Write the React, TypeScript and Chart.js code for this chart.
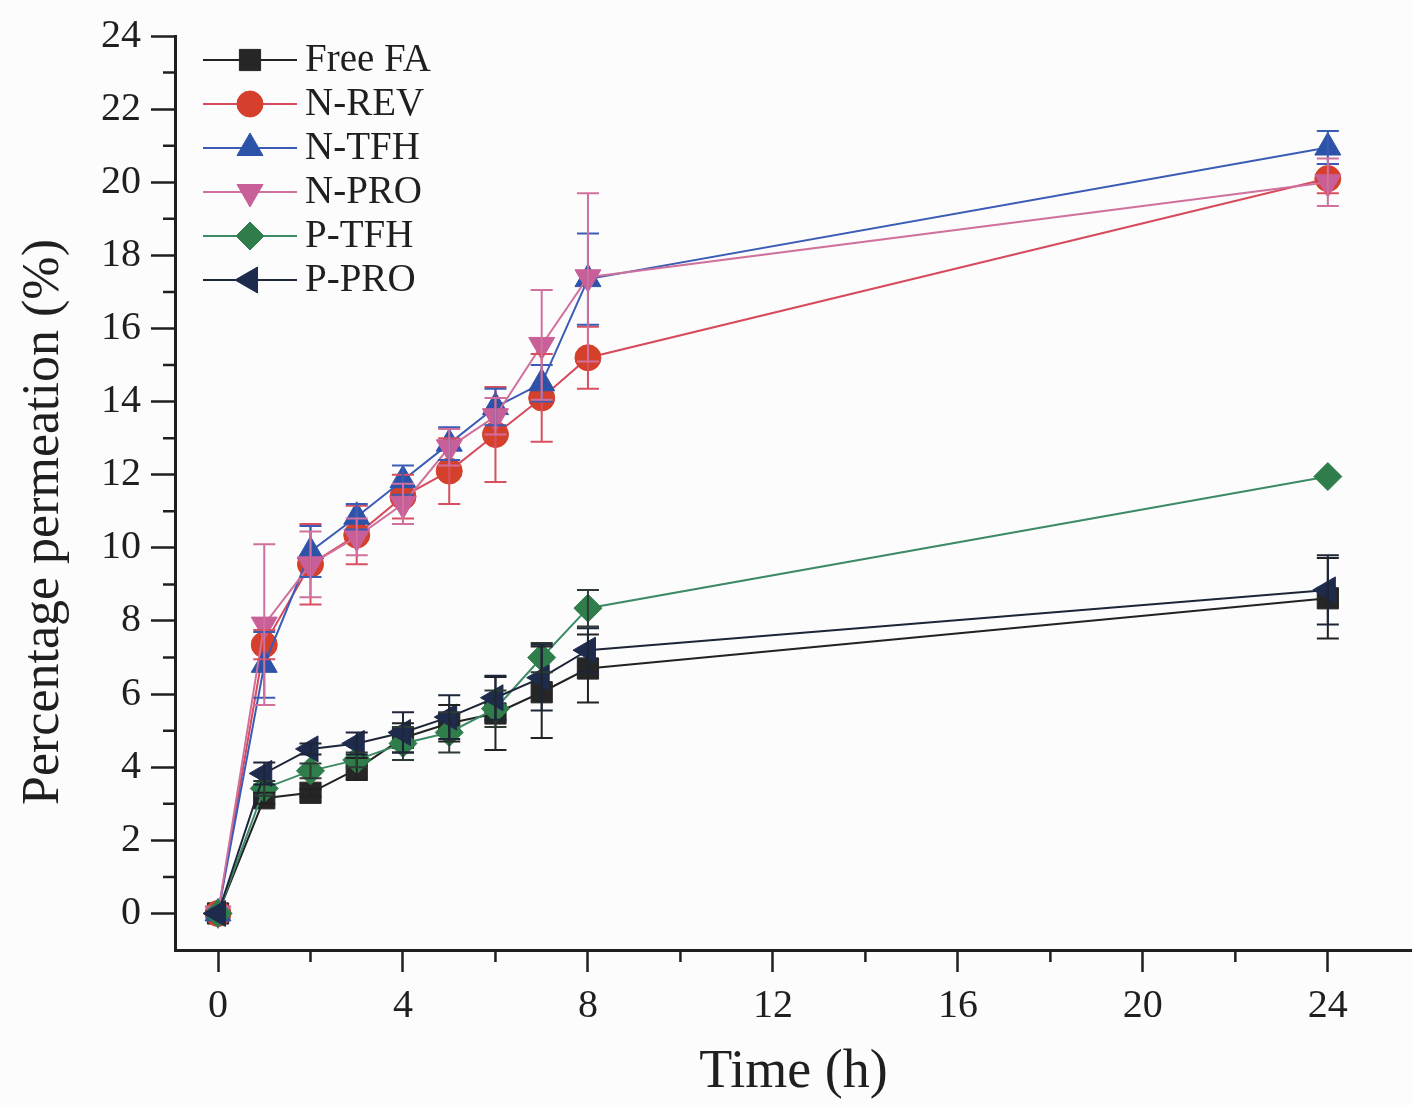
import React, { useEffect, useRef } from 'react';
import { Chart, registerables } from 'chart.js';
import { drawPoint } from 'chart.js/helpers';

Chart.register(...registerables);

const times = [0, 1, 2, 3, 4, 5, 6, 7, 8, 24];

const seriesNames = ['Free FA', 'N-REV', 'N-TFH', 'N-PRO', 'P-TFH', 'P-PRO'];

const freeFA = [0, 3.15, 3.3, 3.95, 4.8, 5.2, 5.47, 6.05, 6.7, 8.62];
const freeFAErr = [0, 0.15, 0.1, 0.3, 0.4, 0.5, 1.0, 1.25, 0.93, 1.1];

const nRev = [0, 7.35, 9.55, 10.35, 11.4, 12.1, 13.1, 14.1, 15.2, 20.1];
const nRevErr = [0, 0.4, 1.1, 0.8, 0.6, 0.9, 1.3, 1.2, 0.85, 0.4];

const nTfh = [0, 6.8, 9.9, 10.85, 11.85, 12.85, 13.85, 14.5, 17.35, 20.95];
const nTfhErr = [0, 0.9, 0.7, 0.35, 0.4, 0.45, 0.5, 0.5, 1.25, 0.45];

const nPro = [0, 7.9, 9.55, 10.3, 11.2, 12.75, 13.6, 15.55, 17.4, 20.0];
const nProErr = [0, 2.2, 0.9, 0.5, 0.55, 0.5, 0.5, 1.5, 2.3, 0.65];

const pTfh = [0, 3.42, 3.9, 4.2, 4.65, 4.95, 5.6, 7.0, 8.35, 11.95];
const pTfhErr = [0, 0.2, 0.2, 0.2, 0.45, 0.55, 0.5, 0.4, 0.5, 0];

const pPro = [0, 3.83, 4.5, 4.65, 4.95, 5.37, 5.9, 6.45, 7.2, 8.85];
const pProErr = [0, 0.3, 0.15, 0.3, 0.55, 0.6, 0.6, 0.9, 0.6, 0.95];

const xTickValues = [0, 4, 8, 12, 16, 20, 24];
const xMinorValues = [2, 6, 10, 14, 18, 22];
const yTickValues = [0, 2, 4, 6, 8, 10, 12, 14, 16, 18, 20, 22, 24];
const yMinorValues = [1, 3, 5, 7, 9, 11, 13, 15, 17, 19, 21, 23];

const xTitle = 'Time (h)';
const yTitle = 'Percentage permeation (%)';

const FONT = '"Liberation Serif", "Times New Roman", serif';
const INK = '#1f1f1f';

const styles = [
  { values: freeFA, errs: freeFAErr, line: '#222222', fill: '#262626', err: '#222222', pointStyle: 'rect', rotation: 0, radius: 15 },
  { values: nRev, errs: nRevErr, line: '#d64a5c', fill: '#d5402c', err: '#d85060', pointStyle: 'circle', rotation: 0, radius: 13 },
  { values: nTfh, errs: nTfhErr, line: '#3a5cb4', fill: '#2d53a8', err: '#3a5cb4', pointStyle: 'triangle', rotation: 0, radius: 15 },
  { values: nPro, errs: nProErr, line: '#d0709c', fill: '#c95f98', err: '#d0709c', pointStyle: 'triangle', rotation: 180, radius: 15 },
  { values: pTfh, errs: pTfhErr, line: '#3d8a66', fill: '#2e7d4a', err: '#2e3a34', pointStyle: 'rectRot', rotation: 0, radius: 14 },
  { values: pPro, errs: pProErr, line: '#1d2538', fill: '#1e2b4d', err: '#1d2538', pointStyle: 'triangle', rotation: -90, radius: 15 },
];

const errorBarPlugin = {
  id: 'errorBars',
  afterDatasetsDraw(chart: any) {
    const { ctx, scales } = chart;
    const x = scales.x;
    const y = scales.y;
    styles.forEach((s) => {
      ctx.save();
      ctx.strokeStyle = s.err;
      ctx.lineWidth = 2;
      s.values.forEach((v, k) => {
        const e = s.errs[k];
        if (!e) return;
        const px = x.getPixelForValue(times[k]);
        const top = y.getPixelForValue(v + e);
        const bot = y.getPixelForValue(v - e);
        ctx.beginPath();
        ctx.moveTo(px, top);
        ctx.lineTo(px, bot);
        ctx.moveTo(px - 11, top);
        ctx.lineTo(px + 11, top);
        ctx.moveTo(px - 11, bot);
        ctx.lineTo(px + 11, bot);
        ctx.stroke();
      });
      ctx.restore();
    });
  },
};

const minorTickPlugin = {
  id: 'minorTicks',
  afterDraw(chart: any) {
    const { ctx, scales, chartArea } = chart;
    ctx.save();
    ctx.strokeStyle = INK;
    ctx.lineWidth = 2.5;
    ctx.beginPath();
    yMinorValues.forEach((v) => {
      const py = scales.y.getPixelForValue(v);
      ctx.moveTo(chartArea.left - 12, py);
      ctx.lineTo(chartArea.left, py);
    });
    xMinorValues.forEach((v) => {
      const px = scales.x.getPixelForValue(v);
      ctx.moveTo(px, chartArea.bottom);
      ctx.lineTo(px, chartArea.bottom + 12);
    });
    ctx.stroke();
    ctx.restore();
  },
};

const yTitlePlugin = {
  id: 'yTitle',
  afterDraw(chart: any) {
    const { ctx } = chart;
    ctx.save();
    ctx.translate(44, 522);
    ctx.rotate(-Math.PI / 2);
    ctx.fillStyle = INK;
    ctx.font = `52px ${FONT}`;
    ctx.textAlign = 'center';
    ctx.textBaseline = 'middle';
    ctx.fillText(yTitle, 0, 0);
    ctx.restore();
  },
};

const legendPlugin = {
  id: 'insideLegend',
  afterDraw(chart: any) {
    const { ctx } = chart;
    ctx.save();
    const x0 = 203;
    const x1 = 297;
    const xm = 250;
    const yStart = 60;
    const dy = 44;
    seriesNames.forEach((name, i) => {
      const s = styles[i];
      const yy = yStart + i * dy;
      ctx.strokeStyle = s.line;
      ctx.lineWidth = 2;
      ctx.beginPath();
      ctx.moveTo(x0, yy);
      ctx.lineTo(x1, yy);
      ctx.stroke();
      ctx.fillStyle = s.fill;
      ctx.strokeStyle = s.fill;
      ctx.lineWidth = 1;
      drawPoint(ctx, { pointStyle: s.pointStyle as any, rotation: s.rotation, radius: s.radius, borderWidth: 1 } as any, xm, yy);
      ctx.fillStyle = INK;
      ctx.font = `39px ${FONT}`;
      ctx.textBaseline = 'middle';
      ctx.textAlign = 'left';
      ctx.fillText(name, 305, yy + 1);
    });
    ctx.restore();
  },
};

export default function App() {
  const ref = useRef<HTMLCanvasElement>(null);

  useEffect(() => {
    document.body.style.margin = '0';
    const canvas = ref.current;
    if (!canvas) return;
    const datasets = styles.map((s, i) => ({
      label: seriesNames[i],
      data: s.values.map((v, k) => ({ x: times[k], y: v })),
      order: styles.length - i,
      borderColor: s.line,
      backgroundColor: s.fill,
      borderWidth: 2,
      pointStyle: s.pointStyle as any,
      pointRotation: s.rotation,
      pointRadius: s.radius,
      pointBackgroundColor: s.fill,
      pointBorderColor: s.fill,
      pointBorderWidth: 1,
      tension: 0,
      fill: false,
      clip: false as any,
    }));

    const chart = new Chart(canvas, {
      type: 'line',
      data: { datasets },
      options: {
        responsive: false,
        animation: false,
        events: [],
        layout: { autoPadding: false, padding: { top: 36, right: 0, left: 0, bottom: 0 } },
        plugins: {
          legend: { display: false },
          tooltip: { enabled: false },
        },
        scales: {
          x: {
            type: 'linear',
            min: -0.93,
            max: 25.82,
            afterBuildTicks: (s: any) => {
              s.ticks = xTickValues.map((v) => ({ value: v }));
            },
            afterFit: (s: any) => {
              s.height = 155;
              s.paddingLeft = 0;
              s.paddingRight = 0;
            },
            grid: {
              display: true,
              drawOnChartArea: false,
              drawTicks: true,
              tickLength: 22,
              tickWidth: 2.5,
              tickColor: INK,
            },
            border: { display: true, width: 3, color: INK },
            ticks: {
              font: { family: FONT, size: 40 },
              color: INK,
              padding: 10,
              maxRotation: 0,
              autoSkip: false,
            },
            title: {
              display: true,
              text: xTitle,
              font: { family: FONT, size: 54 },
              color: INK,
              padding: { top: 0, bottom: 0 },
            },
          },
          y: {
            type: 'linear',
            min: -1,
            max: 24,
            afterBuildTicks: (s: any) => {
              s.ticks = yTickValues.map((v) => ({ value: v }));
            },
            afterFit: (s: any) => {
              s.width = 175;
            },
            grid: {
              display: true,
              drawOnChartArea: false,
              drawTicks: true,
              tickLength: 24,
              tickWidth: 2.5,
              tickColor: INK,
            },
            border: { display: true, width: 3, color: INK },
            ticks: {
              font: { family: FONT, size: 40 },
              color: INK,
              padding: 10,
              autoSkip: false,
            },
            title: { display: false },
          },
        },
      },
      plugins: [errorBarPlugin, minorTickPlugin, yTitlePlugin, legendPlugin],
    });
    return () => chart.destroy();
  }, []);

  return (
    <div style={{ width: 1412, height: 1105, background: '#fcfcfc' }}>
      <canvas ref={ref} width={1412} height={1105} />
    </div>
  );
}
